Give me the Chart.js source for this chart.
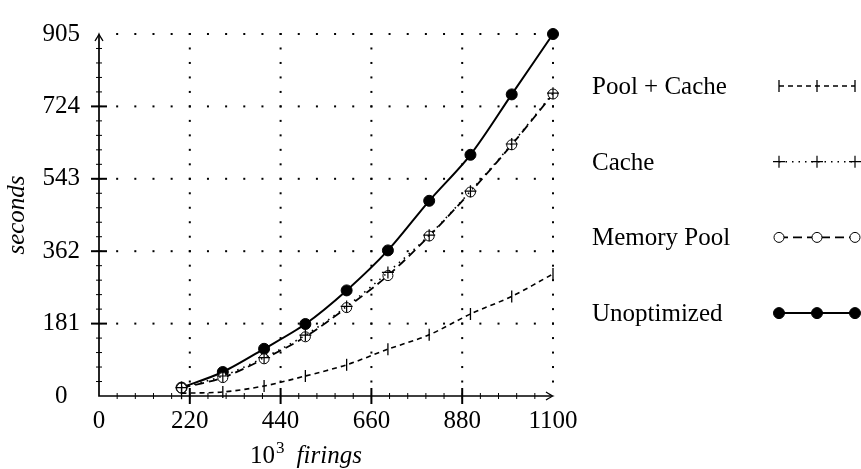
<!DOCTYPE html>
<html>
<head>
<meta charset="utf-8">
<script src="https://cdn.jsdelivr.net/npm/chart.js@4/dist/chart.umd.min.js"></script>
<style>
  html, body { margin: 0; padding: 0; background: #fff; }
</style>
</head>
<body>
<canvas id="chart" width="861" height="469"></canvas>
<script>
// data
const firings = [200, 300, 400, 500, 600, 700, 800, 900, 1000, 1100];
const poolCache = [7, 10, 25, 50, 78, 117, 153, 205, 249, 305];
const cache = [21, 50, 96, 152, 224, 309, 402, 512, 630, 757];
const memoryPool = [20, 46, 93, 148, 221, 301, 400, 510, 628, 755];
const unoptimized = [21, 60, 118, 180, 264, 364, 488, 603, 754, 905];
const seriesNames = ['Pool + Cache', 'Cache', 'Memory Pool', 'Unoptimized'];
const xTicks = [0, 220, 440, 660, 880, 1100];
const yTicks = [0, 181, 362, 543, 724, 905];
const xMinorStep = 44;
const yMinorStep = 36.2;
const yTitle = 'seconds';
const xTitleBase = '10';
const xTitleExp = '3';
const xTitleWord = 'firings';

const FONT = '"Liberation Serif", "Times New Roman", serif';
const ink = '#000';
Chart.defaults.font.family = FONT;
Chart.defaults.font.size = 25;
Chart.defaults.color = ink;

const canvas = document.getElementById('chart');

function series(label, values, style) {
    return Object.assign({
        label: label,
        data: firings.map((x, i) => ({ x: x, y: values[i] })),
        borderColor: ink,
        pointBorderColor: ink,
        fill: false,
        tension: 0.3,
        clip: false
    }, style);
}

const datasets = [
    series(seriesNames[0], poolCache, {
        borderDash: [5, 4], borderWidth: 1.6,
        pointStyle: 'line', pointRotation: 90, pointRadius: 6, pointBorderWidth: 1.3
    }),
    series(seriesNames[1], cache, {
        borderDash: [1.5, 5], borderWidth: 1.6,
        pointStyle: 'cross', pointRadius: 6, pointBorderWidth: 1.2
    }),
    series(seriesNames[2], memoryPool, {
        borderDash: [9, 5], borderWidth: 1.8,
        pointStyle: 'circle', pointRadius: 5, pointBackgroundColor: '#fff', pointBorderWidth: 1
    }),
    series(seriesNames[3], unoptimized, {
        borderWidth: 2,
        pointStyle: 'circle', pointRadius: 5.5, pointBackgroundColor: ink, pointBorderWidth: 1
    })
];

function drawArrow(ctx, x, y, up) {
    ctx.save();
    ctx.translate(x, y);
    if (up) ctx.rotate(-Math.PI / 2);
    ctx.beginPath();
    ctx.moveTo(-7, -4);
    ctx.quadraticCurveTo(-2, -0.8, 0, 0);
    ctx.quadraticCurveTo(-2, 0.8, -7, 4);
    ctx.lineWidth = 1.3;
    ctx.setLineDash([]);
    ctx.stroke();
    ctx.restore();
}

// pgfplots-like axes: dotted grid, arrowed axis lines, major/minor ticks
const axesPlugin = {
    id: 'pgfAxes',
    beforeDatasetsDraw(chart) {
        const { ctx, scales: { x, y } } = chart;
        const xMax = xTicks[xTicks.length - 1], yMax = yTicks[yTicks.length - 1];
        const x0 = x.getPixelForValue(0), y0 = y.getPixelForValue(0);
        const xEnd = x.getPixelForValue(xMax), yEnd = y.getPixelForValue(yMax);
        const nx = Math.round(xMax / xMinorStep), ny = Math.round(yMax / yMinorStep);
        ctx.save();
        ctx.fillStyle = ink;
        yTicks.slice(1).forEach(t => {
            const py = y.getPixelForValue(t);
            for (let i = 1; i <= nx; i++) {
                ctx.fillRect(x.getPixelForValue(i * xMinorStep) - 1, py - 1, 2, 2);
            }
        });
        xTicks.slice(1).forEach(t => {
            const px = x.getPixelForValue(t);
            for (let i = 1; i <= ny; i++) {
                ctx.fillRect(px - 1, y.getPixelForValue(i * yMinorStep) - 1, 2, 2);
            }
        });

        ctx.strokeStyle = ink;
        ctx.lineWidth = 1;
        for (let i = 1; i < nx; i++) {
            const px = x.getPixelForValue(i * xMinorStep);
            ctx.beginPath(); ctx.moveTo(px, y0 - 3); ctx.lineTo(px, y0 + 3); ctx.stroke();
        }
        for (let i = 1; i < ny; i++) {
            const py = y.getPixelForValue(i * yMinorStep);
            ctx.beginPath(); ctx.moveTo(x0 - 3, py); ctx.lineTo(x0 + 3, py); ctx.stroke();
        }
        ctx.lineWidth = 2;
        xTicks.slice(1, -1).forEach(t => {
            const px = x.getPixelForValue(t);
            ctx.beginPath(); ctx.moveTo(px, y0 - 8); ctx.lineTo(px, y0 + 8); ctx.stroke();
        });
        yTicks.slice(1, -1).forEach(t => {
            const py = y.getPixelForValue(t);
            ctx.beginPath(); ctx.moveTo(x0 - 8, py); ctx.lineTo(x0 + 8, py); ctx.stroke();
        });

        ctx.lineWidth = 1.7;
        ctx.beginPath();
        ctx.moveTo(x0 - 0.85, y0); ctx.lineTo(xEnd - 1, y0);
        ctx.moveTo(x0, y0 + 0.85); ctx.lineTo(x0, yEnd + 1);
        ctx.stroke();
        drawArrow(ctx, xEnd, y0, false);
        drawArrow(ctx, x0, yEnd, true);
        ctx.restore();
    }
};

function drawMarker(ctx, ds, px, py) {
    const r = ds.pointRadius;
    ctx.save();
    ctx.setLineDash([]);
    ctx.lineWidth = ds.pointBorderWidth;
    ctx.strokeStyle = ink;
    ctx.beginPath();
    if (ds.pointStyle === 'circle') {
        ctx.arc(px, py, r, 0, Math.PI * 2);
        ctx.fillStyle = ds.pointBackgroundColor;
        ctx.fill();
    } else if (ds.pointStyle === 'cross') {
        ctx.moveTo(px - r, py); ctx.lineTo(px + r, py);
        ctx.moveTo(px, py - r); ctx.lineTo(px, py + r);
    } else {
        ctx.moveTo(px, py - r); ctx.lineTo(px, py + r);
    }
    ctx.stroke();
    ctx.restore();
}

// legend on the right, plus the x axis title with superscript and italics
const legendX = 592, legendTop = 86, legendGap = 75.7;
const sampleX0 = 779, sampleX1 = 855;
const decorPlugin = {
    id: 'decor',
    afterDraw(chart) {
        const { ctx } = chart;
        ctx.save();
        ctx.fillStyle = ink;
        ctx.textBaseline = 'alphabetic';
        chart.data.datasets.forEach((ds, i) => {
            const ly = legendTop + i * legendGap;
            ctx.font = '25px ' + FONT;
            ctx.textAlign = 'left';
            ctx.fillText(ds.label, legendX, ly + 8);
            ctx.save();
            ctx.strokeStyle = ink;
            ctx.lineWidth = ds.borderWidth;
            ctx.setLineDash(ds.borderDash || []);
            ctx.beginPath();
            ctx.moveTo(sampleX0, ly); ctx.lineTo(sampleX1, ly);
            ctx.stroke();
            ctx.restore();
            [sampleX0, (sampleX0 + sampleX1) / 2, sampleX1].forEach(px => drawMarker(ctx, ds, px, ly));
        });

        const base = 463;
        ctx.font = '25px ' + FONT;
        const wBase = ctx.measureText(xTitleBase).width;
        ctx.font = '17px ' + FONT;
        const wExp = ctx.measureText(xTitleExp).width;
        ctx.font = 'italic 25px ' + FONT;
        const wWord = ctx.measureText(xTitleWord).width;
        const total = wBase + 1 + wExp + 12 + wWord;
        let tx = 306 - total / 2;
        ctx.textAlign = 'left';
        ctx.font = '25px ' + FONT;
        ctx.fillText(xTitleBase, tx, base);
        tx += wBase + 1;
        ctx.font = '17px ' + FONT;
        ctx.fillText(xTitleExp, tx, base - 10);
        tx += wExp + 12;
        ctx.font = 'italic 25px ' + FONT;
        ctx.fillText(xTitleWord, tx, base);
        ctx.restore();
    }
};

const chart = new Chart(canvas, {
    type: 'line',
    data: { datasets: datasets },
    options: {
        responsive: false,
        animation: false,
        events: [],
        layout: { padding: { top: 17, right: 308, left: 0, bottom: 0 } },
        plugins: { legend: { display: false }, tooltip: { enabled: false } },
        scales: {
            x: {
                type: 'linear', min: 0, max: xTicks[xTicks.length - 1],
                grid: { display: false, drawTicks: false },
                border: { display: false },
                ticks: { autoSkip: false, maxRotation: 0, padding: 10, callback: v => String(v) },
                afterBuildTicks: s => { s.ticks = xTicks.map(v => ({ value: v })); },
                afterFit: s => { s.height = 73; }
            },
            y: {
                type: 'linear', min: 0, max: yTicks[yTicks.length - 1],
                grid: { display: false, drawTicks: false },
                border: { display: false },
                ticks: { crossAlign: 'center', padding: 19, callback: v => String(v) },
                afterBuildTicks: s => { s.ticks = yTicks.map(v => ({ value: v })); },
                afterFit: s => { s.width = 99; },
                title: { display: true, text: yTitle, font: { size: 25, style: 'italic' }, padding: 2 }
            }
        }
    },
    plugins: [axesPlugin, decorPlugin]
});
</script>
</body>
</html>
